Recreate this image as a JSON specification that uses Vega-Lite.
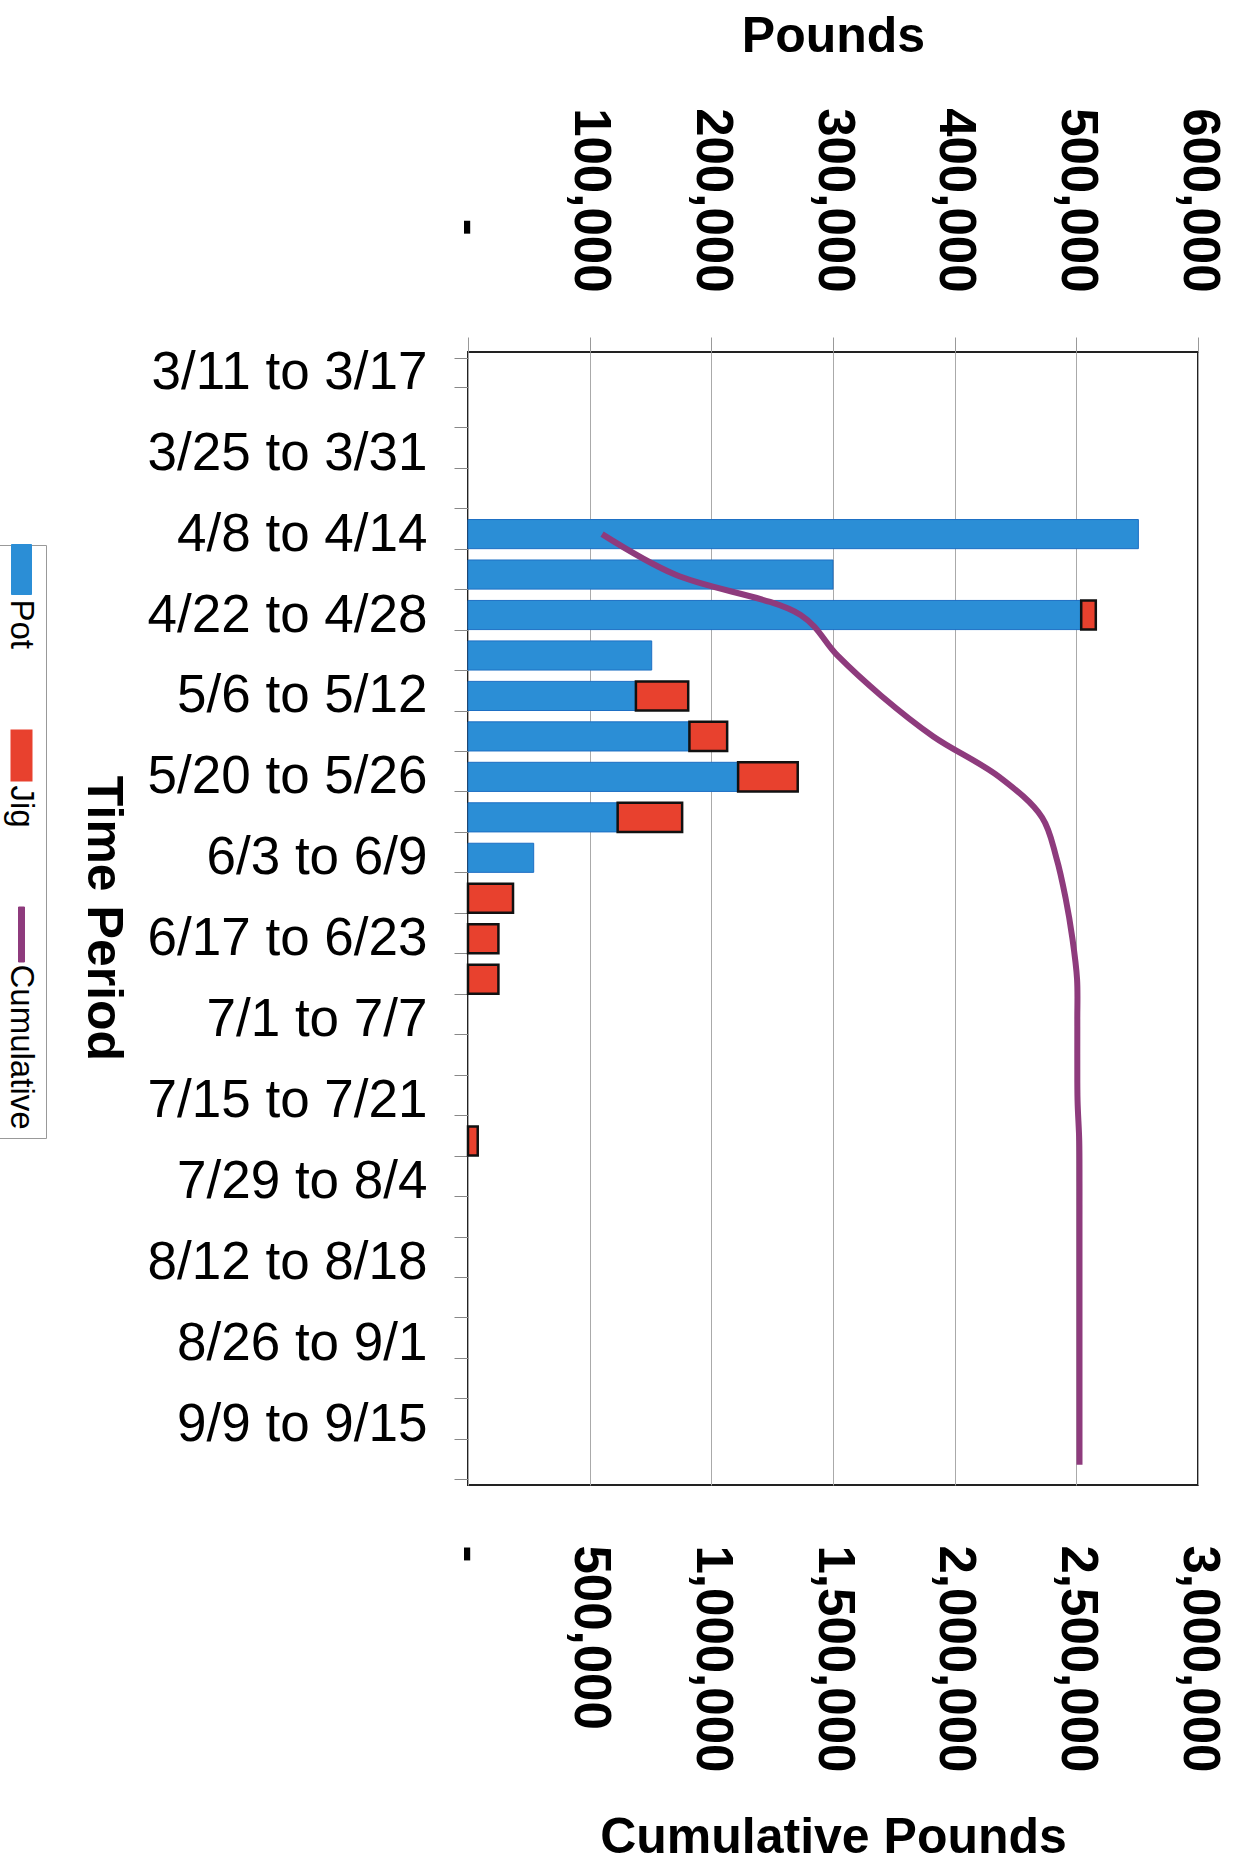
{
  "$schema": "https://vega.github.io/schema/vega-lite/v6.json",
  "width": 730,
  "height": 1133,
  "autosize": {"type": "none"},
  "padding": {"left": 468, "top": 352, "right": 38, "bottom": 385},
  "background": "white",
  "config": {
    "font": "Liberation Sans",
    "view": {"stroke": "#222", "strokeWidth": 2}
  },
  "datasets": {
    "bars": [
      {"period": "4/8 to 4/14", "series": "Pot", "pounds": 551000},
      {"period": "4/15 to 4/21", "series": "Pot", "pounds": 300000},
      {"period": "4/22 to 4/28", "series": "Pot", "pounds": 504000},
      {"period": "4/22 to 4/28", "series": "Jig", "pounds": 12000},
      {"period": "4/29 to 5/5", "series": "Pot", "pounds": 151000},
      {"period": "5/6 to 5/12", "series": "Pot", "pounds": 138000},
      {"period": "5/6 to 5/12", "series": "Jig", "pounds": 43000},
      {"period": "5/13 to 5/19", "series": "Pot", "pounds": 182000},
      {"period": "5/13 to 5/19", "series": "Jig", "pounds": 31000},
      {"period": "5/20 to 5/26", "series": "Pot", "pounds": 222000},
      {"period": "5/20 to 5/26", "series": "Jig", "pounds": 49000},
      {"period": "5/27 to 6/2", "series": "Pot", "pounds": 123000},
      {"period": "5/27 to 6/2", "series": "Jig", "pounds": 53000},
      {"period": "6/3 to 6/9", "series": "Pot", "pounds": 54000},
      {"period": "6/10 to 6/16", "series": "Jig", "pounds": 37000},
      {"period": "6/17 to 6/23", "series": "Jig", "pounds": 25000},
      {"period": "6/24 to 6/30", "series": "Jig", "pounds": 25000},
      {"period": "7/22 to 7/28", "series": "Jig", "pounds": 8000}
    ],
    "cum": [
      {"period": "4/8 to 4/14", "week": 4, "cumulative": 551000},
      {"period": "4/15 to 4/21", "week": 5, "cumulative": 851000},
      {"period": "4/22 to 4/28", "week": 6, "cumulative": 1367000},
      {"period": "4/29 to 5/5", "week": 7, "cumulative": 1518000},
      {"period": "5/6 to 5/12", "week": 8, "cumulative": 1699000},
      {"period": "5/13 to 5/19", "week": 9, "cumulative": 1912000},
      {"period": "5/20 to 5/26", "week": 10, "cumulative": 2183000},
      {"period": "5/27 to 6/2", "week": 11, "cumulative": 2359000},
      {"period": "6/3 to 6/9", "week": 12, "cumulative": 2418000},
      {"period": "6/10 to 6/16", "week": 13, "cumulative": 2456000},
      {"period": "6/17 to 6/23", "week": 14, "cumulative": 2484000},
      {"period": "6/24 to 6/30", "week": 15, "cumulative": 2503000},
      {"period": "7/1 to 7/7", "week": 16, "cumulative": 2504000},
      {"period": "7/8 to 7/14", "week": 17, "cumulative": 2504000},
      {"period": "7/15 to 7/21", "week": 18, "cumulative": 2505000},
      {"period": "7/22 to 7/28", "week": 19, "cumulative": 2512000},
      {"period": "7/29 to 8/4", "week": 20, "cumulative": 2513000},
      {"period": "8/5 to 8/11", "week": 21, "cumulative": 2513000},
      {"period": "8/12 to 8/18", "week": 22, "cumulative": 2513000},
      {"period": "8/19 to 8/25", "week": 23, "cumulative": 2513000},
      {"period": "8/26 to 9/1", "week": 24, "cumulative": 2513000},
      {"period": "9/2 to 9/8", "week": 25, "cumulative": 2513000},
      {"period": "9/9 to 9/15", "week": 26, "cumulative": 2513000},
      {"period": "9/16 to 9/22", "week": 27, "cumulative": 2513000}
    ]
  },
  "layer": [
    {
      "data": {"name": "bars"},
      "mark": {"type": "bar"},
      "encoding": {
        "y": {
          "field": "period",
          "type": "nominal",
          "scale": {
            "domain": ["3/11 to 3/17","3/18 to 3/24","3/25 to 3/31","4/1 to 4/7","4/8 to 4/14","4/15 to 4/21","4/22 to 4/28","4/29 to 5/5","5/6 to 5/12","5/13 to 5/19","5/20 to 5/26","5/27 to 6/2","6/3 to 6/9","6/10 to 6/16","6/17 to 6/23","6/24 to 6/30","7/1 to 7/7","7/8 to 7/14","7/15 to 7/21","7/22 to 7/28","7/29 to 8/4","8/5 to 8/11","8/12 to 8/18","8/19 to 8/25","8/26 to 9/1","9/2 to 9/8","9/9 to 9/15","9/16 to 9/22"],
            "paddingInner": 0.28,
            "paddingOuter": 0.14
          },
          "axis": {
            "orient": "left",
            "tickBand": "extent",
            "tickSize": 14,
            "tickColor": "#888",
            "tickWidth": 1,
            "domain": false,
            "grid": false,
            "labelFontSize": 53,
            "labelColor": "black",
            "labelPadding": 27,
            "labelLimit": 500,
            "labelOverlap": false,
            "labelExpr": "indexof(['3/11 to 3/17','3/25 to 3/31','4/8 to 4/14','4/22 to 4/28','5/6 to 5/12','5/20 to 5/26','6/3 to 6/9','6/17 to 6/23','7/1 to 7/7','7/15 to 7/21','7/29 to 8/4','8/12 to 8/18','8/26 to 9/1','9/9 to 9/15'], datum.value) >= 0 ? datum.value : ''",
            "title": "Time Period",
            "titleFontSize": 50,
            "titleFontWeight": "bold",
            "titleColor": "black",
            "titleAngle": 90,
            "titleX": -366,
            "titleY": 566,
            "titleAlign": "center",
            "titleBaseline": "middle"
          }
        },
        "x": {
          "field": "pounds",
          "type": "quantitative",
          "stack": "zero",
          "scale": {"domain": [0, 600000], "nice": false},
          "axis": {
            "orient": "top",
            "values": [0, 100000, 200000, 300000, 400000, 500000, 600000],
            "labelAngle": 90,
            "labelAlign": "right",
            "labelBaseline": "middle",
            "labelFontSize": 51,
            "labelFontWeight": "bold",
            "labelColor": "black",
            "labelPadding": 45,
            "labelLimit": 500,
            "labelFlush": false,
            "labelOverlap": false,
            "labelExpr": "datum.value === 0 ? '-\u00a0\u00a0\u00a0\u00a0\u200b' : format(datum.value, ',')",
            "tickSize": 15,
            "tickColor": "#999",
            "grid": true,
            "gridColor": "#aaa",
            "gridWidth": 1,
            "domain": false,
            "title": "Pounds",
            "titleFontSize": 50,
            "titleFontWeight": "bold",
            "titleColor": "black",
            "titleX": 365,
            "titleY": -316,
            "titleAlign": "center",
            "titleBaseline": "middle"
          }
        },
        "color": {
          "field": "series",
          "type": "nominal",
          "scale": {"domain": ["Pot", "Jig", "Cumulative"], "range": ["#2b8ed6", "#e8412e", "#8e3b7d"]},
          "legend": {
            "orient": "none",
            "legendX": -471,
            "legendY": 193,
            "direction": "vertical",
            "title": null,
            "labelFontSize": 33,
            "labelColor": "black",
            "labelLimit": 400,
            "labelOffset": 0,
            "symbolSize": 2500,
            "symbolType": "M-0.4,-1H0.4V1H-0.4Z",
            "symbolStrokeWidth": 1,
            "rowPadding": 76,
            "padding": 8,
            "strokeColor": "#999",
            "fillColor": "white",
            "encode": {
              "symbols": {
                "update": {
                  "shape": {"signal": "datum.value === 'Cumulative' ? 'M-0.12,-1.1H0.12V1.1H-0.12Z' : 'M-0.4,-1H0.4V1H-0.4Z'"},
                  "stroke": {"signal": "datum.value === 'Jig' ? '#111' : datum.value === 'Cumulative' ? '#8e3b7d' : '#1d6fc4'"},
                  "strokeWidth": {"signal": "datum.value === 'Jig' ? 2 : 1"}
                }
              },
              "labels": {
                "update": {
                  "angle": {"value": 90},
                  "align": {"value": "left"},
                  "baseline": {"value": "middle"},
                  "dx": {"value": 30},
                  "dy": {"value": 17}
                }
              }
            }
          }
        },
        "order": {"field": "series", "sort": "descending"},
        "stroke": {"condition": {"test": "datum.series === 'Jig'", "value": "#111"}, "value": "#1d6fc4"},
        "strokeWidth": {"condition": {"test": "datum.series === 'Jig'", "value": 2.5}, "value": 1}
      }
    },
    {
      "data": {"name": "cum"},
      "mark": {"type": "line", "interpolate": "catmull-rom", "strokeWidth": 6},
      "encoding": {
        "y": {"field": "period", "type": "nominal"},
        "x": {
          "field": "cumulative",
          "type": "quantitative",
          "scale": {"domain": [0, 3000000], "nice": false},
          "axis": {
            "orient": "bottom",
            "values": [0, 500000, 1000000, 1500000, 2000000, 2500000, 3000000],
            "labelAngle": 90,
            "labelAlign": "left",
            "labelBaseline": "middle",
            "labelFontSize": 51,
            "labelFontWeight": "bold",
            "labelColor": "black",
            "labelPadding": 60,
            "labelLimit": 500,
            "labelFlush": false,
            "labelOverlap": false,
            "labelExpr": "datum.value === 0 ? '-' : format(datum.value, ',')",
            "ticks": false,
            "grid": false,
            "domain": false,
            "title": "Cumulative Pounds",
            "titleFontSize": 50,
            "titleFontWeight": "bold",
            "titleColor": "black",
            "titleX": 365,
            "titleY": 352,
            "titleAlign": "center",
            "titleBaseline": "middle"
          }
        },
        "color": {
          "datum": "Cumulative",
          "type": "nominal",
          "legend": {
            "orient": "none",
            "legendX": -471,
            "legendY": 193,
            "direction": "vertical",
            "title": null,
            "labelFontSize": 33,
            "labelColor": "black",
            "labelLimit": 400,
            "labelOffset": 0,
            "symbolSize": 2500,
            "symbolType": "M-0.4,-1H0.4V1H-0.4Z",
            "symbolStrokeWidth": 1,
            "rowPadding": 76,
            "padding": 8,
            "strokeColor": "#999",
            "fillColor": "white",
            "encode": {
              "symbols": {
                "update": {
                  "shape": {"signal": "datum.value === 'Cumulative' ? 'M-0.12,-1.1H0.12V1.1H-0.12Z' : 'M-0.4,-1H0.4V1H-0.4Z'"},
                  "stroke": {"signal": "datum.value === 'Jig' ? '#111' : datum.value === 'Cumulative' ? '#8e3b7d' : '#1d6fc4'"},
                  "strokeWidth": {"signal": "datum.value === 'Jig' ? 2 : 1"}
                }
              },
              "labels": {
                "update": {
                  "angle": {"value": 90},
                  "align": {"value": "left"},
                  "baseline": {"value": "middle"},
                  "dx": {"value": 30},
                  "dy": {"value": 17}
                }
              }
            }
          }
        },
        "order": {"field": "week", "type": "quantitative"}
      }
    }
  ],
  "resolve": {"scale": {"x": "independent"}, "axis": {"x": "independent"}}
}
